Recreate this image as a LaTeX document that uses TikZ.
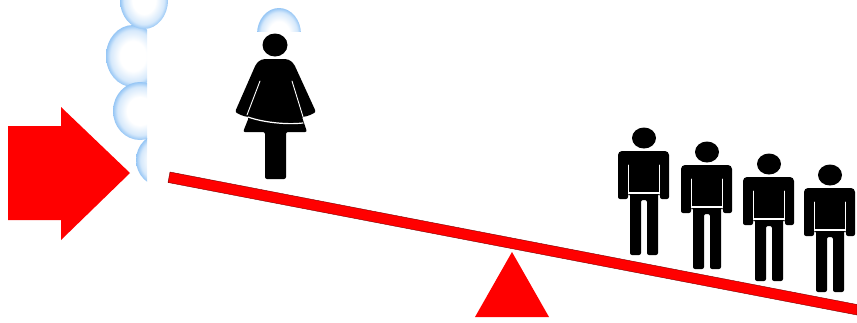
\documentclass[tikz,border=0pt]{standalone}
\definecolor{bubbleblue}{RGB}{150,198,245}
\pgfdeclareradialshading{bubbleshade}{\pgfpoint{0bp}{0bp}}{
  color(0bp)=(white); color(12bp)=(white); color(21bp)=(bubbleblue!40); color(25bp)=(bubbleblue); color(50bp)=(bubbleblue)}
\tikzset{
  x=1pt,y=-1pt,
  bubble/.style={shading=bubbleshade},
  figure/.style={fill=black,draw=none},
  gap/.style={draw=white,line width=1.2pt,line cap=round},
  thingap/.style={draw=white,line width=0.9pt,line cap=round},
  man/.pic={
    \fill[figure] (0,-13) ellipse [x radius=12,y radius=10.5];
    \fill[figure,rounded corners=2pt] (-26,20) [rounded corners=4pt] -- (-26,0) -- (25,0) -- (25,20) [rounded corners=2pt] -- (25,48) -- (16,48) -- (16,43) -- (14,43) -- (14,104) -- (3,104) -- (3,49) -- (-3,49) -- (-3,104) -- (-14,104) -- (-14,43) -- (-16,43) -- (-16,48) -- (-26,48) -- cycle;
    \draw[thingap] (-15.5,14) -- (-15.5,43);
    \draw[thingap] (15,14) -- (15,43);
    \draw[gap] (-15,42) -- (15,42);
  }
}
\begin{document}
\begin{tikzpicture}
\useasboundingbox (0,0) rectangle (857,322);
% bubbles
\begin{scope}
  \clip (100,-5) rectangle (147,200);
  \shade[bubble] (133,56) ellipse [x radius=27,y radius=31];
  \shade[bubble] (140,111) ellipse [x radius=27,y radius=29];
  \shade[bubble] (163,160) ellipse [x radius=27,y radius=27];
\end{scope}
\begin{scope}
  \clip (100,-5) rectangle (175,40);
  \shade[bubble] (144,0) ellipse [x radius=24,y radius=29];
\end{scope}
\begin{scope}
  \clip (250,0) rectangle (305,31);
  \shade[bubble] (279,34) ellipse [x radius=22,y radius=26];
\end{scope}
% push arrow
\fill[red] (8,126) -- (61,126) -- (61,107) -- (130,173) -- (61,240) -- (61,220) -- (8,220) -- cycle;
% beam and fulcrum
\fill[red] (475,317) -- (512,252) -- (549,317) -- cycle;
\fill[red,draw=black!55!red,line width=0.4pt] (170,172) -- (857,304.5) -- (857,315) -- (168,182.5) -- cycle;
% woman
\fill[figure] (275,45) ellipse [x radius=12.5,y radius=11.5];
\fill[figure,rounded corners=2pt] (265,179) -- (265,132) -- (243,132) -- (249,117) -- (243,116) -- (235,112) -- (256,64) [rounded corners=4pt] -- (261,59) -- (289,59) [rounded corners=2pt] -- (294,64) -- (316,112) -- (308,116) -- (302,117) -- (307,132) -- (286,132) -- (286,179) -- cycle;
\draw[thingap] (260,81) -- (247,115);
\draw[thingap] (292,81) -- (304,120);
\draw[gap] (248,117) .. controls (262,122) and (285,125) .. (303,123);
% men
\pic at (644,151) {man};
\pic at (707,165) {man};
\pic at (769,177) {man};
\pic at (830,188) {man};
\end{tikzpicture}
\end{document}
